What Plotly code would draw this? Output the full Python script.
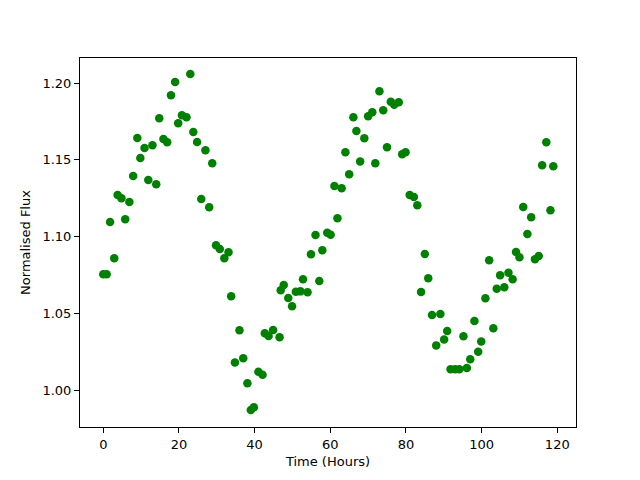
import plotly.graph_objects as go

time_hours = [0.0, 0.9, 1.8, 2.9, 3.8, 4.8, 5.8, 6.9, 7.9, 9.0, 9.8, 10.9, 11.9, 13.0, 14.0,
              14.8, 15.9, 16.9, 17.9, 19.0, 19.8, 20.8, 22.0, 23.0, 23.8, 24.8, 25.9, 27.0,
              28.0, 28.8, 29.8, 30.8, 32.0, 33.1, 33.8, 34.8, 36.0, 37.0, 38.1, 39.0, 39.8,
              41.0, 42.1, 42.7, 43.7, 44.9, 46.6, 46.9, 47.7, 48.9, 49.9, 50.9, 52.1, 52.8,
              54.0, 54.9, 56.1, 57.1, 57.9, 59.2, 60.1, 61.1, 61.9, 63.0, 64.0, 65.0, 66.1,
              66.9, 67.9, 69.0, 70.0, 71.1, 71.9, 73.0, 74.0, 75.0, 76.0, 76.9, 78.1, 79.0,
              79.9, 81.0, 82.1, 83.0, 84.0, 85.0, 85.9, 86.9, 88.0, 89.1, 90.1, 90.9, 91.8,
              93.0, 94.1, 95.2, 96.1, 97.0, 98.1, 99.1, 99.9, 101.0, 102.0, 103.1, 104.0,
              104.9, 106.0, 107.1, 108.2, 109.1, 110.0, 111.0, 112.1, 113.1, 114.1, 115.1,
              116.0, 117.1, 118.2, 118.95]

flux = [1.0754, 1.0754, 1.1095, 1.0859, 1.1271, 1.1250, 1.1113, 1.1226, 1.1395, 1.1643,
        1.1512, 1.1578, 1.1369, 1.1595, 1.1341, 1.1771, 1.1636, 1.1615, 1.1921, 1.2008,
        1.1739, 1.1791, 1.1778, 1.2060, 1.1682, 1.1617, 1.1245, 1.1563, 1.1191, 1.1478,
        1.0943, 1.0919, 1.0859, 1.0898, 1.0611, 1.0180, 1.0389, 1.0207, 1.0044, 0.9870,
        0.9887, 1.0119, 1.0100, 1.0370, 1.0352, 1.0391, 1.0344, 1.0650, 1.0684, 1.0600,
        1.0546, 1.0641, 1.0643, 1.0722, 1.0637, 1.0885, 1.1010, 1.0711, 1.0911, 1.1025,
        1.1012, 1.1330, 1.1119, 1.1315, 1.1550, 1.1406, 1.1778, 1.1688, 1.1490, 1.1641,
        1.1784, 1.1810, 1.1478, 1.1947, 1.1823, 1.1582, 1.1879, 1.1860, 1.1876, 1.1537,
        1.1550, 1.1271, 1.1258, 1.1204, 1.0639, 1.0887, 1.0728, 1.0489, 1.0291, 1.0495,
        1.0330, 1.0385, 1.0135, 1.0135, 1.0135, 1.0350, 1.0143, 1.0200, 1.0450, 1.0250,
        1.0317, 1.0598, 1.0846, 1.0402, 1.0660, 1.0748, 1.0670, 1.0765, 1.0722, 1.0900,
        1.0865, 1.1193, 1.1017, 1.1126, 1.0852, 1.0874, 1.1465, 1.1615, 1.1171, 1.1458]

x_ticks = [0, 20, 40, 60, 80, 100, 120]
y_ticks = [1.00, 1.05, 1.10, 1.15, 1.20]

fig = go.Figure()
fig.add_trace(go.Scatter(
    x=time_hours, y=flux, mode="markers",
    marker=dict(color="#008000", size=8.5, line=dict(width=0)),
    showlegend=False,
))

axis_common = dict(
    showline=True, linecolor="black", linewidth=1, mirror=True,
    ticks="outside", ticklen=5, tickwidth=1, tickcolor="black",
    showgrid=False, zeroline=False,
    tickfont=dict(family="DejaVu Sans", size=13, color="black"),
)

# the page body adds an 8px margin, so the figure is placed at (8, 8)
fig.update_layout(
    width=632, height=472,
    paper_bgcolor="white", plot_bgcolor="white",
    margin=dict(l=72, r=64, t=50, b=53),
    font=dict(family="DejaVu Sans", size=13, color="black"),
    xaxis=dict(range=[-6.15, 124.95], tickvals=x_ticks,
               ticktext=[str(v) for v in x_ticks],
               title=dict(text="Time (Hours)", standoff=6,
                          font=dict(family="DejaVu Sans", size=13)),
               **axis_common),
    yaxis=dict(range=[0.9759, 1.2164], tickvals=y_ticks,
               ticktext=[f"{v:.2f}" for v in y_ticks],
               title=dict(text="Normalised Flux", standoff=8,
                          font=dict(family="DejaVu Sans", size=13)),
               **axis_common),
)

fig.write_html("out.html")
